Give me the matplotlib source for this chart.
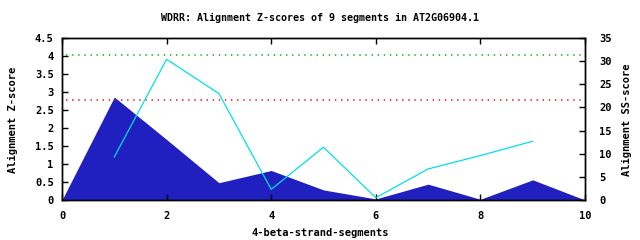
import matplotlib
matplotlib.use('Agg')
import matplotlib.pyplot as plt

# WDRR alignment scores per segment
seg_x = [0, 1, 2, 3, 4, 5, 6, 7, 8, 9, 10]
zscore = [0, 2.86, 1.68, 0.48, 0.82, 0.28, 0.03, 0.44, 0.02, 0.56, 0]
ss_x = [1, 2, 3, 4, 5, 6, 7, 8, 9]
ss_score = [9.3, 30.4, 23.0, 2.3, 11.4, 0.5, 6.7, 9.6, 12.7]
red_thresh = 2.77
green_thresh = 4.03

title = 'WDRR: Alignment Z-scores of 9 segments in AT2G06904.1'
mono = 'DejaVu Sans Mono'

fig = plt.figure(figsize=(6.4, 2.4), dpi=100)
ax = fig.add_axes([62/640, 40/240, 523/640, 162/240])
ax2 = ax.twinx()

ax.fill_between(seg_x, zscore, 0, color='#2020c0', lw=0)
ax.axhline(red_thresh, xmin=0.008, xmax=0.996, color='#ff0000', lw=1.1, ls=(0, (0.9, 3.1)))
ax.axhline(green_thresh, xmin=0.008, xmax=0.996, color='#00b000', lw=1.1, ls=(0, (0.9, 3.1)))
ax2.plot(ss_x, ss_score, color='#00e0e8', lw=0.9)

ax.set_xlim(0, 10)
ax.set_ylim(0, 4.5)
ax2.set_ylim(0, 35)
ax.set_xticks(range(0, 11, 2))
ax.set_yticks([i * 0.5 for i in range(10)])
ax.set_yticklabels(['0', '0.5', '1', '1.5', '2', '2.5', '3', '3.5', '4', '4.5'])
ax2.set_yticks(range(0, 36, 5))

ax.tick_params(axis='x', direction='in', top=True, length=4, width=1, pad=8)
ax.tick_params(axis='y', direction='in', length=4, width=1, pad=6)
ax2.tick_params(axis='y', direction='in', length=4, width=1, pad=10)
for a in (ax, ax2):
    for lab in a.get_xticklabels() + a.get_yticklabels():
        lab.set_fontfamily(mono)
        lab.set_fontweight('bold')
        lab.set_fontsize(7.5)
    for s in a.spines.values():
        s.set_linewidth(1)

fig.text(0.5, 1 - 18/240, title, ha='center', va='center', family=mono,
         fontweight='semibold', fontsize=7.2)
fig.text(0.5, 1 - 233/240, '4-beta-strand-segments', ha='center', va='center',
         family=mono, fontweight='bold', fontsize=7.5)
fig.text(13/640, 0.5, 'Alignment Z-score', rotation=90, ha='center', va='center',
         family=mono, fontweight='bold', fontsize=7.5)
fig.text(627/640, 0.5, 'Alignment SS-score', rotation=90, ha='center', va='center',
         family=mono, fontweight='bold', fontsize=7.5)

plt.savefig('out.png', dpi=100)
